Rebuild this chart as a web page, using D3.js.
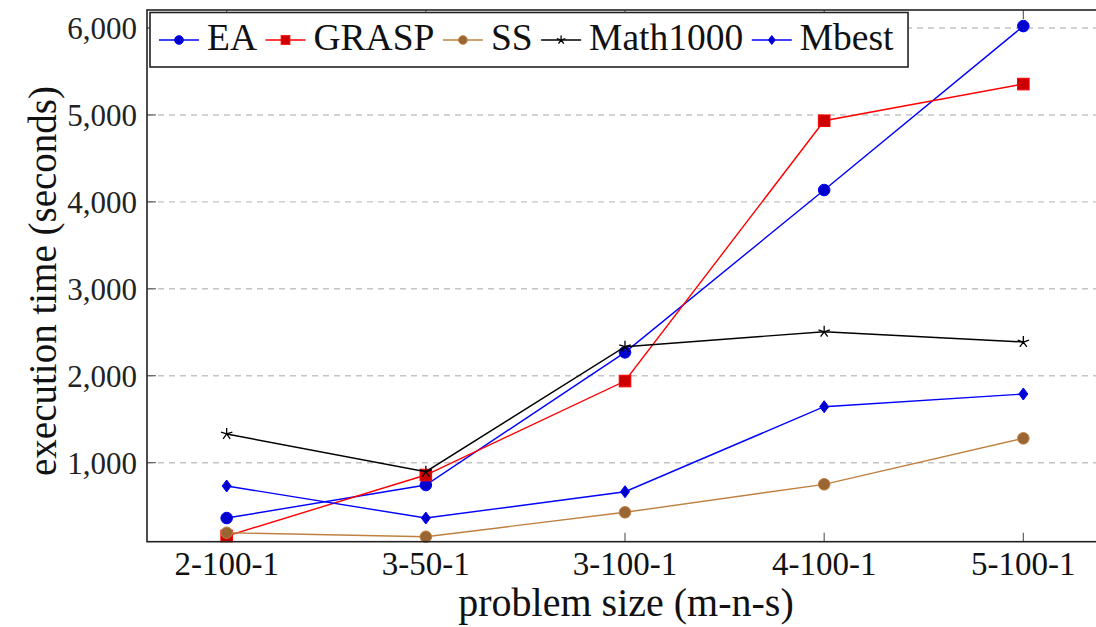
<!DOCTYPE html>
<html lang="en">
<head>
  <meta charset="UTF-8">
  <title>Execution time by problem size</title>
  <script src="https://d3js.org/d3.v7.min.js"></script>
  <style>
    body { margin: 0; background: #fff; }
    svg { display: block; }
    svg text { font-family: 'Liberation Serif', 'DejaVu Serif', serif; }
    .grid line { stroke: #c4c4c4; stroke-width: 1.4; stroke-dasharray: 6,5; }
    .tick-mark { stroke: #555; stroke-width: 1.1; }
  </style>
</head>
<body>
<svg width="1096" height="627"></svg>

<script>
  const categories = ["2-100-1", "3-50-1", "3-100-1", "4-100-1", "5-100-1"];
  const ea       = [363, 743, 2269, 4136, 6022];
  const grasp    = [156, 858, 1939, 4933, 5355];
  const ss       = [194, 148, 429, 751, 1280];
  const math1000 = [1330, 896, 2334, 2506, 2388];
  const mbest    = [732, 363, 666, 1644, 1790];
  const yTicks   = [1000, 2000, 3000, 4000, 5000, 6000];

  const series = [
    { name: "EA",       values: ea,       color: "#0000ff", fill: "#0000cc", mark: "circle" },
    { name: "GRASP",    values: grasp,    color: "#ff0000", fill: "#cc0000", mark: "square" },
    { name: "SS",       values: ss,       color: "#bf8040", fill: "#996633", mark: "circle" },
    { name: "Math1000", values: math1000, color: "#000000", fill: "#000000", mark: "star" },
    { name: "Mbest",    values: mbest,    color: "#0000ff", fill: "#0000cc", mark: "diamond" }
  ];

  const svg = d3.select("svg");
  const plotLeft = 147, plotRight = 1103, plotTop = 10, plotBottom = 541.7;

  const x = d3.scalePoint().domain(categories).range([plotLeft, plotRight]).padding(0.4);
  const y = d3.scaleLinear().domain([91, 6207]).range([plotBottom, plotTop]);

  // dashed grid
  svg.append("g").attr("class", "grid")
    .selectAll("line").data(yTicks).join("line")
    .attr("x1", plotLeft).attr("x2", plotRight)
    .attr("y1", d => y(d)).attr("y2", d => y(d));

  // inward ticks
  const tickLen = 9;
  svg.append("g").selectAll("line").data(yTicks).join("line")
    .attr("class", "tick-mark")
    .attr("x1", plotLeft).attr("x2", plotLeft + tickLen)
    .attr("y1", d => y(d)).attr("y2", d => y(d));
  svg.append("g").selectAll("line").data(categories).join("line")
    .attr("class", "tick-mark")
    .attr("x1", d => x(d)).attr("x2", d => x(d))
    .attr("y1", plotBottom).attr("y2", plotBottom - tickLen);
  svg.append("g").selectAll("line").data(categories).join("line")
    .attr("class", "tick-mark")
    .attr("x1", d => x(d)).attr("x2", d => x(d))
    .attr("y1", plotTop).attr("y2", plotTop + tickLen);

  // tick labels
  const fmt = d3.format(",");
  svg.append("g").selectAll("text").data(yTicks).join("text")
    .attr("x", 137).attr("y", d => y(d))
    .attr("dy", "0.35em")
    .attr("text-anchor", "end")
    .attr("font-size", 31)
    .attr("fill", "#222")
    .text(d => fmt(d));
  svg.append("g").selectAll("text").data(categories).join("text")
    .attr("x", d => x(d)).attr("y", 575)
    .attr("text-anchor", "middle")
    .attr("font-size", 33)
    .attr("fill", "#111")
    .text(d => d);

  // axis titles
  svg.append("text")
    .attr("x", 626).attr("y", 616)
    .attr("text-anchor", "middle")
    .attr("font-size", 40)
    .attr("fill", "#111")
    .text("problem size (m-n-s)");
  svg.append("text")
    .attr("transform", "translate(42,281) rotate(-90)")
    .attr("text-anchor", "middle")
    .attr("dy", "0.35em")
    .attr("font-size", 39)
    .attr("fill", "#111")
    .text("execution time (seconds)");

  // marker shapes
  function drawMark(g, s, cx, cy, scale) {
    const k = scale || 1;
    if (s.mark === "circle") {
      g.append("circle").attr("cx", cx).attr("cy", cy).attr("r", 5.8 * k)
        .attr("fill", s.fill).attr("stroke", s.color).attr("stroke-width", 1);
    } else if (s.mark === "square") {
      const h = 5.8 * k;
      g.append("rect").attr("x", cx - h).attr("y", cy - h).attr("width", 2 * h).attr("height", 2 * h)
        .attr("fill", s.fill).attr("stroke", s.color).attr("stroke-width", 1);
    } else if (s.mark === "diamond") {
      const h = 6 * k, w = 4.5 * k;
      g.append("path")
        .attr("d", `M${cx},${cy - h}L${cx + w},${cy}L${cx},${cy + h}L${cx - w},${cy}Z`)
        .attr("fill", s.fill).attr("stroke", s.color).attr("stroke-width", 1);
    } else if (s.mark === "star") {
      const r = 6 * k;
      let d = "";
      for (let i = 0; i < 5; i++) {
        const a = -Math.PI / 2 + i * 2 * Math.PI / 5;
        d += `M${cx},${cy}L${cx + r * Math.cos(a)},${cy + r * Math.sin(a)}`;
      }
      g.append("path").attr("d", d).attr("fill", "none")
        .attr("stroke", s.color).attr("stroke-width", 1.3);
    }
  }

  const line = d3.line().x((d, i) => x(categories[i])).y(d => y(d));

  series.forEach(s => {
    const g = svg.append("g");
    g.append("path").datum(s.values)
      .attr("d", line)
      .attr("fill", "none")
      .attr("stroke", s.color)
      .attr("stroke-width", 1.4);
    s.values.forEach((v, i) => drawMark(g, s, x(categories[i]), y(v)));
  });

  // axis frame
  svg.append("rect")
    .attr("x", plotLeft).attr("y", plotTop)
    .attr("width", plotRight - plotLeft).attr("height", plotBottom - plotTop)
    .attr("fill", "none").attr("stroke", "#222").attr("stroke-width", 1.6);

  // legend
  const lg = svg.append("g");
  const lgBox = lg.append("rect")
    .attr("x", 150).attr("y", 12.5).attr("height", 54.5)
    .attr("fill", "#fff").attr("stroke", "#222").attr("stroke-width", 1.6);
  let cursor = 159;
  series.forEach(s => {
    lg.append("line")
      .attr("x1", cursor).attr("x2", cursor + 40)
      .attr("y1", 40).attr("y2", 40)
      .attr("stroke", s.color).attr("stroke-width", 1.4);
    drawMark(lg, s, cursor + 20, 40, 0.75);
    const t = lg.append("text")
      .attr("x", cursor + 48).attr("y", 50)
      .attr("font-size", 37.5)
      .attr("fill", "#111")
      .text(s.name);
    cursor += 48 + t.node().getComputedTextLength() + 8.5;
  });
  lgBox.attr("width", cursor - 150 + 6);
</script>
</body>
</html>
